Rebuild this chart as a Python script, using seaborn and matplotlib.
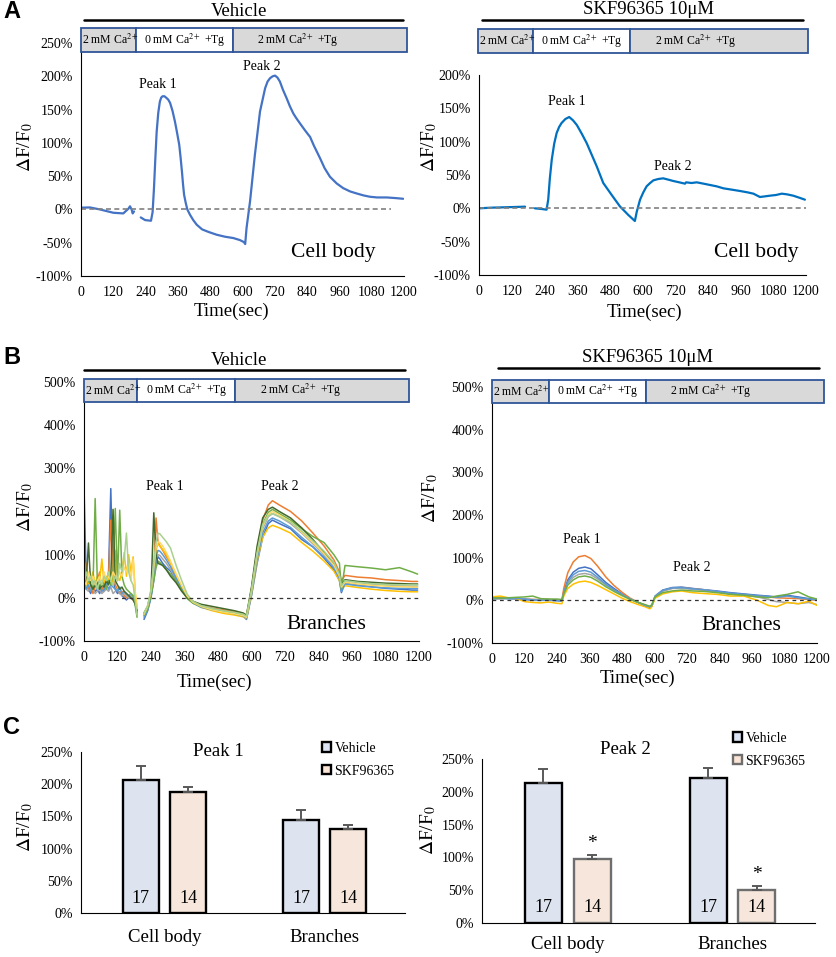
import matplotlib
matplotlib.use("Agg")
import matplotlib.pyplot as plt
from matplotlib.patches import Rectangle, Patch
import numpy as np
import pandas as pd
import seaborn as sns

# ---------------- data ----------------
# A: cell body traces (time in s, dF/F0 in %)
veh_body_t1 = [0, 33, 70, 120, 157, 176, 182, 188, 192, 197]
veh_body_v1 = [2.6, 3, 0, -5, -6, 1, 4.7, 0, -6, -3]
veh_body_t2 = [222, 238, 260, 266, 271, 276, 281, 287, 293, 298, 303, 310, 316, 324, 331,
               340, 349, 357, 365, 370, 375, 379, 383, 389, 395, 405, 417, 430, 450, 475,
               504, 535, 566, 590, 605, 610, 615, 628, 646, 665, 684, 693, 702, 712, 721,
               730, 739, 750, 764, 776, 789, 800, 814, 830, 845, 851, 865, 888, 905, 925,
               950, 974, 1000, 1024, 1050, 1074, 1100, 1136, 1170, 1197]
veh_body_v2 = [-12, -16, -17, -4, 31, 75, 116, 145, 162, 168, 170, 170, 168, 165, 160,
               148, 132, 115, 97, 78, 57, 38, 22, 10, 0, -8, -16, -23, -30, -34,
               -38, -41, -43, -46, -49, -52, -28, 12, 82, 147, 182, 192, 197, 200, 201,
               198, 192, 180, 167, 155, 144, 137, 129, 120, 112, 109, 96, 77, 62, 49,
               39, 32, 27, 24, 21, 19, 18, 18, 17, 16]

skf_body_t1 = [0, 45, 89, 130, 169]
skf_body_v1 = [0, 1, 1.5, 2, 2.5]
skf_body_t2 = [205, 230, 248, 254, 260, 267, 276, 285, 294, 303, 317, 331, 345, 359, 377,
               395, 413, 432, 456, 487, 517, 548, 572, 579, 591, 603, 615, 628, 640, 658,
               676, 695, 713, 735, 756, 760, 780, 799, 824, 848, 872, 897, 928, 958, 985,
               1007, 1031, 1050, 1068, 1090, 1111, 1130, 1153, 1175, 1196]
skf_body_v2 = [0, -1, -2, 13, 45, 73, 97, 113, 122, 128, 134, 137, 132, 125, 112,
               98, 81, 63, 38, 20, 3, -10, -19, -5, 13, 24, 33, 38, 42, 44,
               45, 43, 41, 39, 37, 39, 38, 39, 37, 35, 33, 30, 28, 26, 24,
               22, 17, 18, 19, 20, 22, 21, 19, 16, 13]

# B: vehicle branches (segment 1 and segment 2 sampled times)
br_t1 = [0, 8, 16, 24, 32, 40, 48, 56, 64, 72, 80, 88, 96, 104, 112, 120, 128, 136,
         144, 152, 160, 168, 176, 184, 190]
br_t2 = [215, 228, 240, 250, 258, 265, 272, 282, 295, 310, 330, 350, 370, 390, 420, 460,
         500, 540, 570, 582, 600, 620, 640, 660, 675, 700, 740, 780, 820, 860, 895, 915,
         922, 935, 980, 1030, 1080, 1130, 1175, 1195]

veh_branch_names = ["blue", "orange", "gray", "yellow", "lightblue", "green",
                    "darkgreen", "lightyellow", "lightgreen"]
veh_branch_colors = ["#4472C4", "#ED7D31", "#A5A5A5", "#FFC000", "#5B9BD5", "#70AD47",
                     "#43682B", "#FFD966", "#A9D18E"]
veh_branch_v1 = [
    [260, 40, 20, 10, 30, 15, 20, 10, 25, 15, 30, 60, 253, 40, 20, 10, 15, 5, 0, -5, 0, 5, 0, -15, -35],
    [40, 80, 20, 30, 10, 25, 40, 60, 15, 30, 20, 50, 180, 60, 30, 20, 10, 15, 5, 0, 5, 0, -5, -10, -30],
    [30, 20, 15, 25, 20, 10, 15, 20, 10, 15, 20, 15, 25, 10, 15, 20, 10, 5, 10, 5, 0, 5, 0, -10, -25],
    [20, 50, 30, 40, 60, 30, 50, 40, 90, 30, 50, 40, 60, 30, 110, 50, 40, 60, 105, 50, 100, 60, 95, 10, -20],
    [50, 20, 30, 15, 25, 35, 20, 30, 15, 20, 35, 20, 30, 25, 20, 15, 25, 10, 15, 10, 5, 10, 5, -15, -40],
    [20, 30, 40, 30, 20, 230, 30, 20, 40, 30, 20, 40, 30, 60, 207, 40, 203, 50, 30, 20, 15, 10, 5, -20, -45],
    [30, 40, 127, 30, 20, 30, 40, 20, 30, 25, 40, 30, 50, 205, 40, 30, 20, 25, 15, 10, 5, 0, -5, -15, -30],
    [40, 30, 60, 40, 50, 30, 40, 50, 30, 60, 40, 50, 40, 60, 50, 40, 60, 50, 70, 60, 80, 40, 90, 5, -25],
    [30, 60, 40, 50, 30, 40, 20, 40, 30, 50, 40, 60, 40, 30, 50, 40, 80, 60, 90, 150, 60, 40, 30, -10, -40],
]
veh_branch_v2 = [
    [-50, -30, 0, 40, 80, 95, 90, 80, 70, 62, 40, 20, 0, -12, -20, -25, -30, -36, -42, -50,
     5, 80, 140, 172, 180, 172, 160, 135, 118, 92, 65, 40, 12, 35, 30, 26, 22, 20, 18, 18],
    [-40, -25, 10, 60, 185, 130, 120, 110, 95, 80, 50, 25, 3, -8, -18, -24, -28, -32, -38, -42,
     20, 110, 180, 215, 225, 215, 200, 178, 150, 120, 88, 60, 40, 52, 48, 46, 42, 40, 38, 38],
    [-38, -22, 8, 50, 90, 100, 98, 90, 80, 65, 42, 20, 0, -10, -18, -26, -31, -35, -40, -44,
     12, 95, 160, 188, 195, 188, 172, 150, 125, 100, 75, 50, 25, 40, 36, 32, 30, 28, 27, 27],
    [-42, -25, 12, 70, 110, 125, 120, 112, 100, 80, 52, 25, 2, -12, -22, -30, -36, -40, -44, -48,
     8, 85, 140, 162, 168, 162, 150, 128, 108, 85, 62, 40, 20, 28, 24, 20, 17, 15, 14, 14],
    [-45, -28, 5, 55, 95, 110, 108, 100, 88, 72, 45, 22, 0, -12, -22, -28, -32, -37, -42, -47,
     8, 90, 150, 178, 185, 178, 163, 140, 118, 95, 70, 45, 15, 32, 28, 25, 23, 22, 22, 22],
    [-40, -25, 5, 40, 70, 85, 82, 75, 65, 55, 38, 18, -2, -12, -20, -27, -32, -36, -40, -44,
     15, 100, 170, 198, 205, 195, 180, 160, 142, 128, 100, 80, 20, 75, 72, 69, 65, 70, 60, 55],
    [-35, -20, 15, 197, 100, 80, 78, 75, 65, 50, 35, 15, 0, -8, -15, -20, -25, -30, -35, -40,
     25, 120, 185, 205, 210, 200, 185, 162, 135, 105, 80, 55, 30, 42, 38, 36, 34, 33, 32, 32],
    [-38, -20, 15, 70, 115, 130, 128, 120, 105, 85, 55, 28, 4, -10, -20, -28, -33, -37, -41, -45,
     15, 100, 165, 193, 200, 192, 176, 152, 128, 102, 76, 50, 25, 36, 32, 29, 27, 26, 25, 25],
    [-35, -18, 20, 80, 130, 150, 148, 140, 130, 115, 75, 40, 8, -8, -18, -25, -30, -34, -38, -42,
     18, 105, 170, 190, 195, 188, 175, 155, 132, 108, 82, 55, 28, 40, 36, 33, 31, 30, 30, 30],
]

# B: SKF96365 branches
skf_br_t = [0, 30, 60, 90, 120, 150, 180, 210, 240, 258, 265, 280, 300, 320, 343, 365, 390,
            420, 450, 480, 510, 540, 565, 583, 590, 602, 630, 665, 700, 740, 780, 830, 880,
            930, 980, 1020, 1050, 1090, 1130, 1170, 1200]
skf_branch_names = ["blue", "orange", "gray", "yellow", "lightblue", "green"]
skf_branch_colors = ["#4472C4", "#ED7D31", "#A5A5A5", "#FFC000", "#5B9BD5", "#70AD47"]
skf_branch_v = [
    [3, 5, 4, 3, 2, 0, 0, 0, -1, -2, 20, 48, 66, 75, 78, 74, 60, 42, 28, 15, 4, -5, -12, -16,
     -13, 10, 24, 30, 31, 28, 25, 22, 18, 15, 12, 10, 8, 12, 8, 4, 2],
    [5, 6, 5, 5, 3, 2, 2, 2, 1, 0, 28, 65, 90, 102, 105, 98, 80, 55, 35, 19, 5, -5, -12, -16,
     -14, 8, 22, 28, 30, 27, 25, 20, 15, 12, 10, 8, 6, 5, 4, 2, 0],
    [4, 3, 5, 4, 3, 2, 1, 2, 0, -1, 16, 40, 54, 61, 63, 60, 50, 36, 24, 13, 3, -5, -11, -15,
     -12, 8, 22, 28, 28, 26, 24, 20, 15, 12, 8, 2, -3, -5, -8, -5, -10],
    [8, 10, 6, 4, -3, -5, -6, -4, -7, -8, 10, 28, 38, 43, 45, 42, 35, 25, 15, 5, -3, -10, -15, -20,
     -15, 5, 15, 20, 22, 18, 16, 14, 10, 10, 0, -12, -15, -5, -8, -2, -12],
    [4, 5, 4, 5, 3, 1, 0, 1, 0, -1, 18, 44, 60, 68, 70, 66, 54, 38, 25, 14, 3, -5, -12, -15,
     -12, 9, 23, 29, 30, 27, 25, 21, 17, 14, 11, 9, 7, 10, 6, 3, 1],
    [6, 5, 6, 7, 8, 10, 4, 3, 3, 2, 15, 36, 48, 55, 57, 54, 45, 32, 21, 11, 2, -5, -10, -14,
     -10, 8, 18, 22, 24, 22, 21, 18, 14, 12, 8, 6, 10, 14, 20, 8, 3],
]

# C: peak amplitudes (mean, SEM, n)
regions = ["Cell body", "Branches"]
treatments = ["Vehicle", "SKF96365"]
peak1_vehicle = [207, 145]
peak1_vehicle_sem = [22, 15]
peak1_skf = [188, 130]
peak1_skf_sem = [7, 7]
peak2_vehicle = [213, 221]
peak2_vehicle_sem = [22, 15]
peak2_skf = [98, 51]
peak2_skf_sem = [6, 6]
n_vehicle = [17, 17]
n_skf = [14, 14]
peak2_significant = [True, True]

protocol_labels = [r"2 mM Ca$^{2+}$", r"0 mM Ca$^{2+}$ +Tg", r"2 mM Ca$^{2+}$ +Tg"]

# ---------------- style ----------------
sns.set_theme(style="white", rc={
    "axes.edgecolor": "black", "xtick.color": "black", "ytick.color": "black",
    "text.color": "black", "axes.labelcolor": "black", "axes.linewidth": 0.8,
})
plt.rcParams["font.family"] = ["Liberation Serif", "DejaVu Serif"]
plt.rcParams["mathtext.fontset"] = "stix"

W, H = 837, 957
fig = plt.figure(figsize=(W / 100, H / 100), dpi=100)


def add_axes(x0, x1, ytop, ybot):
    return fig.add_axes([x0 / W, 1 - ybot / H, (x1 - x0) / W, (ybot - ytop) / H])


def pct(ax, ticks):
    ax.set_yticks(ticks)
    ax.set_yticklabels([f"{t}%" for t in ticks])


def time_axis(ax, ylo, yhi, step):
    ax.set_xlim(0, 1200)
    ax.set_ylim(ylo, yhi)
    ax.set_xticks(range(0, 1201, 120))
    pct(ax, list(range(ylo, yhi + 1, step)))
    ax.tick_params(axis="x", direction="in", length=3, width=0.8, labelsize=10, pad=7)
    ax.tick_params(axis="y", direction="out", length=4, width=0.8, labelsize=10, pad=2)
    sns.despine(ax=ax)


def trace_frame(names, segs_per_trace):
    parts = []
    for name, segs in zip(names, segs_per_trace):
        for k, (t, v) in enumerate(segs):
            parts.append(pd.DataFrame({"trace": name, "seg": k, "t": t, "v": v}))
    return pd.concat(parts, ignore_index=True)


def protocol(ax, edges, y0, y1, centers):
    tr = ax.get_xaxis_transform()
    faces = ["#d9d9d9", "white", "#d9d9d9"]
    for i in range(3):
        ax.add_patch(Rectangle((edges[i], y0), edges[i + 1] - edges[i], y1 - y0,
                               transform=tr, facecolor=faces[i], edgecolor="#2F5597",
                               lw=1.3, clip_on=False, zorder=5))
    ym = (y0 + y1) / 2
    ax.text(edges[0] + 4, ym, protocol_labels[0], transform=tr, ha="left", va="center",
            fontsize=8.5, zorder=6, clip_on=False)
    for i in (1, 2):
        ax.text(centers[i - 1], ym, protocol_labels[i], transform=tr, ha="center",
                va="center", fontsize=8.5, zorder=6, clip_on=False)


def header(ax, title, x0, x1, yline, xtext, ybase):
    tr = ax.get_xaxis_transform()
    ax.plot([x0, x1], [yline, yline], transform=tr, color="black", lw=1.8, clip_on=False)
    ax.text(xtext, ybase, title, transform=tr, ha="center", va="baseline", fontsize=13.5)


def ylab(ax, x, y):
    ax.set_ylabel(r"$\Delta$F/F$_0$", fontsize=14)
    ax.yaxis.set_label_coords(x, y)


def xlab(ax, x, y):
    ax.set_xlabel("Time(sec)", fontsize=13.5)
    ax.xaxis.set_label_coords(x, y)


# ---------------- A ----------------
axA1 = add_axes(81, 404, 43, 276)
dfA1 = trace_frame(["veh"], [[(veh_body_t1, veh_body_v1), (veh_body_t2, veh_body_v2)]])
sns.lineplot(data=dfA1, x="t", y="v", hue="trace", units="seg", estimator=None,
             palette={"veh": "#4472C4"}, lw=1.6, legend=False, sort=False, ax=axA1)
axA1.hlines(0, 0, 1150, colors="#808080", linestyles=(0, (3, 2)), lw=1.2)
time_axis(axA1, -100, 250, 50)
protocol(axA1, [0, 205, 565, 1211], (276 - 52) / 233, (276 - 28) / 233, [386, 804])
header(axA1, "Vehicle", 11, 1196, (276 - 20) / 233, 588, (276 - 16) / 233)
axA1.text(286, 187, "Peak 1", ha="center", va="center", fontsize=10)
axA1.text(673, 215, "Peak 2", ha="center", va="center", fontsize=10)
axA1.text(936, -65, "Cell body", ha="center", va="center", fontsize=15.5)
ylab(axA1, -0.142, 0.553)
xlab(axA1, 0.467, -0.116)

axA2 = add_axes(479, 806, 75, 275)
dfA2 = trace_frame(["skf"], [[(skf_body_t1, skf_body_v1), (skf_body_t2, skf_body_v2)]])
sns.lineplot(data=dfA2, x="t", y="v", hue="trace", units="seg", estimator=None,
             palette={"skf": "#0070C0"}, lw=1.6, legend=False, sort=False, ax=axA2)
axA2.hlines(0, 0, 1200, colors="#808080", linestyles=(0, (3, 2)), lw=1.2)
time_axis(axA2, -100, 200, 50)
protocol(axA2, [-4, 198, 554, 1207], (275 - 53) / 200, (275 - 29) / 200, [378, 796])
header(axA2, "SKF96365 10\u03bcM", 11, 1189, (275 - 20) / 200, 621, (275 - 14) / 200)
axA2.text(323, 160, "Peak 1", ha="center", va="center", fontsize=10)
axA2.text(712, 62, "Peak 2", ha="center", va="center", fontsize=10)
axA2.text(1016, -67, "Cell body", ha="center", va="center", fontsize=15.5)
ylab(axA2, -0.122, 0.64)
xlab(axA2, 0.505, -0.145)

# ---------------- B ----------------
axB1 = add_axes(84, 419, 382, 641)
dfB1 = trace_frame(veh_branch_names,
                   [[(br_t1, v1), (br_t2, v2)] for v1, v2 in zip(veh_branch_v1, veh_branch_v2)])
sns.lineplot(data=dfB1, x="t", y="v", hue="trace", units="seg", estimator=None,
             hue_order=veh_branch_names, palette=dict(zip(veh_branch_names, veh_branch_colors)),
             lw=1.1, legend=False, sort=False, ax=axB1)
axB1.hlines(0, 0, 1200, colors="#333333", linestyles=(0, (3, 3)), lw=0.9, zorder=4)
time_axis(axB1, -100, 500, 100)
protocol(axB1, [0, 190, 541, 1164], (641 - 402) / 259, (641 - 379) / 259, [369, 777])
header(axB1, "Vehicle", 0, 1150, (641 - 370) / 259, 555, (641 - 365) / 259)
axB1.text(290, 257, "Peak 1", ha="center", va="center", fontsize=10)
axB1.text(702, 257, "Peak 2", ha="center", va="center", fontsize=10)
axB1.text(870, -62, "Branches", ha="center", va="center", fontsize=15.5)
ylab(axB1, -0.146, 0.517)
xlab(axB1, 0.388, -0.127)

axB2 = add_axes(492, 817, 387, 643)
dfB2 = trace_frame(skf_branch_names, [[(skf_br_t, v)] for v in skf_branch_v])
sns.lineplot(data=dfB2, x="t", y="v", hue="trace", units="seg", estimator=None,
             hue_order=skf_branch_names, palette=dict(zip(skf_branch_names, skf_branch_colors)),
             lw=1.1, legend=False, sort=False, ax=axB2)
axB2.hlines(0, 0, 1200, colors="#333333", linestyles=(0, (3, 3)), lw=0.9, zorder=4)
time_axis(axB2, -100, 500, 100)
protocol(axB2, [0, 210, 569, 1226], (643 - 403) / 256, (643 - 380) / 256, [391, 809])
header(axB2, "SKF96365 10\u03bcM", 22, 1207, (643 - 368) / 256, 574, (643 - 362) / 256)
axB2.text(332, 143, "Peak 1", ha="center", va="center", fontsize=10)
axB2.text(738, 77, "Peak 2", ha="center", va="center", fontsize=10)
axB2.text(919, -59, "Branches", ha="center", va="center", fontsize=15.5)
ylab(axB2, -0.16, 0.566)
xlab(axB2, 0.446, -0.105)

# ---------------- C ----------------
bar_palette = {"Vehicle": "#DAE3F3", "SKF96365": "#FBE5D6"}


def bar_panel(ax, veh, veh_sem, skf, skf_sem, title, tpos, skf_edge, stars, label_pad):
    df = pd.DataFrame({
        "region": regions * 2,
        "treatment": [treatments[0]] * 2 + [treatments[1]] * 2,
        "value": veh + skf,
    })
    sns.barplot(data=df, x="region", y="value", hue="treatment", order=regions,
                hue_order=treatments, palette=bar_palette, width=0.59, gap=0.24,
                edgecolor="black", linewidth=1.7, errorbar=None, legend=False, ax=ax)
    bars = list(ax.patches)
    sems = veh_sem + skf_sem
    ns = n_vehicle + n_skf
    for i, p in enumerate(bars):
        xc = p.get_x() + p.get_width() / 2
        h = p.get_height()
        if i >= 2:
            p.set_edgecolor(skf_edge)
        ax.errorbar(xc, h, yerr=[[0], [sems[i]]], fmt="none", ecolor="#595959",
                    elinewidth=1.4, capsize=3.5, capthick=1.4, zorder=1)
        ax.text(xc, 23, str(ns[i]), ha="center", va="center", fontsize=13)
        if i >= 2 and stars[i - 2]:
            ax.text(xc, h + sems[i] + 4, "*", ha="center", va="bottom", fontsize=14)
    ax.set_xlim(-0.52, 1.5)
    ax.set_ylim(0, 250)
    pct(ax, list(range(0, 251, 50)))
    ax.set_xticks([0, 1])
    ax.set_xticklabels(regions, fontsize=13.5)
    ax.set_xticks([0.5, 1.5], minor=True)
    ax.tick_params(axis="x", which="major", length=0, pad=label_pad)
    ax.tick_params(axis="x", which="minor", direction="in", length=4, width=0.8)
    ax.tick_params(axis="y", direction="out", length=4, width=0.8, labelsize=10, pad=2)
    ax.set_xlabel("")
    sns.despine(ax=ax)
    ax.text(tpos[0], tpos[1], title, transform=ax.transAxes, ha="center", va="center",
            fontsize=13.5)


axC1 = add_axes(81, 405, 752, 913)
bar_panel(axC1, peak1_vehicle, peak1_vehicle_sem, peak1_skf, peak1_skf_sem, "Peak 1",
          (0.423, 1.0), "black", [False, False], 11.5)
ylab(axC1, -0.142, 0.534)
axC1.legend(handles=[Patch(facecolor=bar_palette[t], edgecolor="black", lw=1.7) for t in treatments],
            labels=treatments, loc="upper left", bbox_to_anchor=(322 / W, 1 - 742 / H),
            bbox_transform=fig.transFigure, frameon=False, fontsize=10, handlelength=0.65,
            handleheight=0.65, handletextpad=0.25, labelspacing=0.7, borderpad=0,
            borderaxespad=0)

axC2 = add_axes(482, 815, 759, 923)
bar_panel(axC2, peak2_vehicle, peak2_vehicle_sem, peak2_skf, peak2_skf_sem, "Peak 2",
          (0.432, 1.055), "#6E6E6E", peak2_significant, 9.5)
ylab(axC2, -0.132, 0.567)
axC2.legend(handles=[Patch(facecolor=bar_palette["Vehicle"], edgecolor="black", lw=1.7),
                     Patch(facecolor=bar_palette["SKF96365"], edgecolor="#6E6E6E", lw=1.7)],
            labels=treatments, loc="upper left", bbox_to_anchor=(733 / W, 1 - 732 / H),
            bbox_transform=fig.transFigure, frameon=False, fontsize=10, handlelength=0.65,
            handleheight=0.65, handletextpad=0.25, labelspacing=0.7, borderpad=0,
            borderaxespad=0)

# panel letters
for letter, y in (("A", 12), ("B", 358), ("C", 728)):
    fig.text(3 / W, 1 - y / H, letter, fontfamily="Liberation Sans", fontweight="bold",
             fontsize=17, ha="left", va="center")

fig.savefig("out.png", dpi=100)
